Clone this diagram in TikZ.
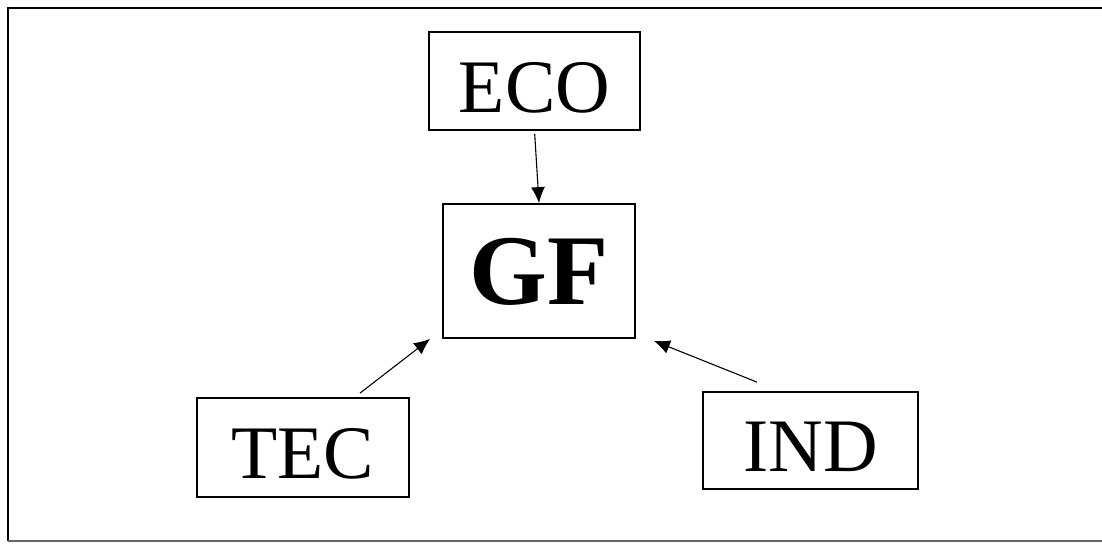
\documentclass[tikz,border=0pt]{standalone}
\usepackage{fontspec}
\setmainfont{Liberation Serif}
\usetikzlibrary{arrows.meta}

\begin{document}
\begin{tikzpicture}[x=0.5pt, y=-0.5pt,
        box/.style={draw, line width=0.9pt, inner sep=0pt, font=\fontsize{37.8}{40}\selectfont, text height=31pt, text depth=0pt},
        arr/.style={-{Latex[length=8pt,width=7pt]}, line width=0.55pt}]
        \useasboundingbox (0,0) rectangle (1102,543);
        % outer frame
        \draw[line width=1.3pt] (1102,8) -- (8,8) -- (8,541);
        \draw[line width=0.6pt, black!60] (8,541) -- (1102,541);

        \node[box, minimum width=105.5pt, minimum height=49pt] (eco) at (534.5,81) {ECO};
        \node[box, minimum width=96pt, minimum height=67pt, font=\fontsize{50}{52}\selectfont\bfseries, text height=33pt] (gf) at (539,271) {GF};
        \node[box, minimum width=106pt, minimum height=49.5pt] (tec) at (303,447.5) {TEC};
        \node[box, minimum width=107.5pt, minimum height=48.5pt] (ind) at (810.5,440.5) {IND};

        \draw[arr, shorten <=1.5pt] (eco.south) -- (gf.north);
        \draw[arr] ([xshift=28.5pt, yshift=2pt]tec.north) -- ([xshift=-6pt]gf.south west);
        \draw[arr] ([xshift=-26.75pt, yshift=4.5pt]ind.north) -- ([xshift=9pt, yshift=-1pt]gf.south east);
    \end{tikzpicture}
\end{document}
